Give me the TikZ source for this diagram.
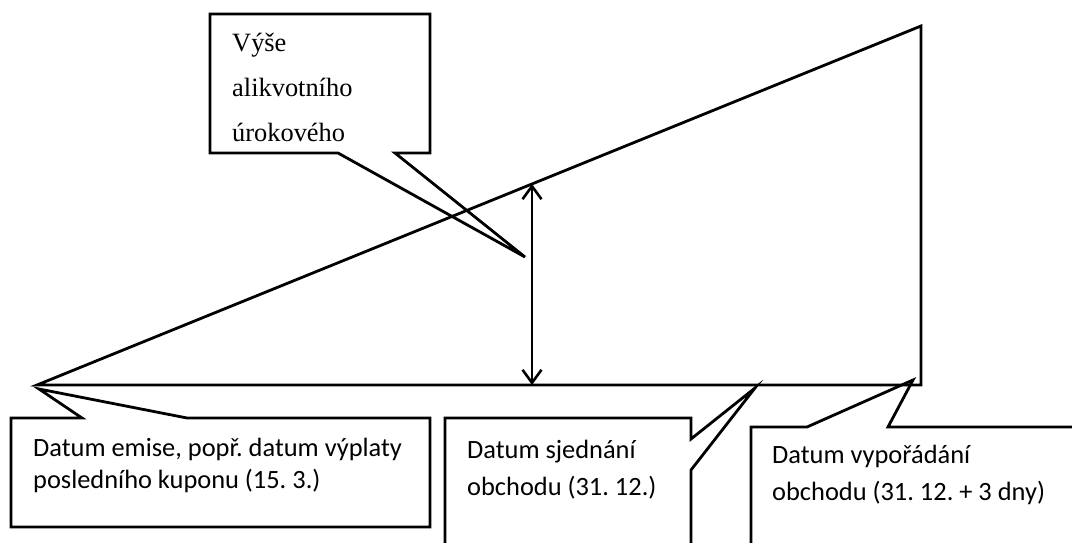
\documentclass[tikz,border=0pt]{standalone}
\usepackage{fontspec}
\setmainfont{Liberation Serif}
\newfontfamily\calib{Carlito}
\usetikzlibrary{arrows.meta}
\frenchspacing
\begin{document}
\begin{tikzpicture}[x=1pt,y=-1pt,
  outline/.style={draw=black, line width=2.8pt, line join=miter},
  dblarrow/.style={draw=black, line width=2.6pt, {Straight Barb[length=13pt,width=19pt]}-{Straight Barb[length=13pt,width=19pt]}},
  sanslabel/.style={font=\calib\frenchspacing\fontsize{26.4}{30}\selectfont, anchor=base west, inner sep=0pt},
  seriflabel/.style={font=\frenchspacing\fontsize{26.4}{30}\selectfont, anchor=base west, inner sep=0pt}]
\useasboundingbox (0,0) rectangle (1072,543);
\clip (0,0) rectangle (1072,543);
% triangle
\coordinate (apex) at (37,385);
\coordinate (br) at (921,385);
\coordinate (tr) at (921,26);
\draw[outline] (apex) -- (br) -- (tr) -- cycle;
% double arrow
\coordinate (arrbot) at (532,385);
\coordinate (arrtop) at (532,184);
\draw[dblarrow] (arrbot) -- (arrtop);
% top callout
\coordinate (tipA) at (525,257);
\draw[outline] (210,14) -- (430,14) -- (430,153) -- (395,153) -- (tipA) -- (338,153) -- (210,153) -- cycle;
\node[seriflabel] (a1) at (232,52) {Výše};
\node[seriflabel] (a2) at (232,97) {alikvotního};
\node[seriflabel] (a3) at (232,142) {úrokového};
% left callout
\coordinate (tipB) at (39,389);
\draw[outline] (11,418) -- (82,418) -- (tipB) -- (187,418) -- (430,418) -- (430,527) -- (11,527) -- cycle;
\node[sanslabel] (b1) at (33,456) {Datum emise, popř. datum výplaty};
\node[sanslabel] (b2) at (33,488) {posledního kuponu (15. 3.)};
% middle callout
\coordinate (tipC) at (755,388);
\draw[outline] (445,570) -- (445,418) -- (691,418) -- (691,439) -- (tipC) -- (691,470) -- (691,570);
\node[sanslabel] (c1) at (467,458) {Datum sjednání};
\node[sanslabel] (c2) at (467,495) {obchodu (31. 12.)};
% right callout
\coordinate (tipD) at (913,380);
\draw[outline] (751,570) -- (751,427) -- (807,427) -- (tipD) -- (888,427) -- (1100,427);
\node[sanslabel] (d1) at (772,463) {Datum vypořádání};
\node[sanslabel] (d2) at (772,500) {obchodu (31. 12. + 3 dny)};
\end{tikzpicture}
\end{document}
